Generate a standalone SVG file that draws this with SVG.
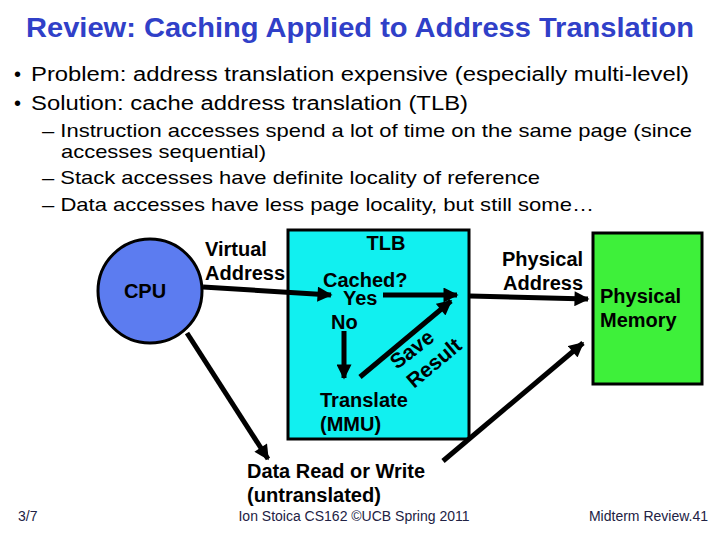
<svg xmlns="http://www.w3.org/2000/svg" width="720" height="540" viewBox="0 0 720 540">
<defs>
<style>
.title{font-family:"Liberation Sans",Arial,sans-serif;font-weight:bold;font-size:28px;fill:#3040c8}
.body{font-family:"Liberation Sans",Arial,sans-serif;font-size:20px;fill:#000}
.sub{font-family:"Liberation Sans",Arial,sans-serif;font-size:19px;fill:#000}
.lbl{font-family:"Liberation Sans",Arial,sans-serif;font-weight:bold;font-size:20px;fill:#000}
.rot{font-family:"Liberation Sans",Arial,sans-serif;font-weight:bold;font-size:21px;fill:#000}
.foot{font-family:"Liberation Sans",Arial,sans-serif;font-size:14px;fill:#222244}
.conn{stroke:#000;stroke-width:5;fill:none}
.box{stroke:#000;stroke-width:3}
</style>
<marker id="ah" viewBox="0 0 10 10" refX="9" refY="5" markerWidth="3.2" markerHeight="3" orient="auto" markerUnits="strokeWidth">
<path d="M0,0 L10,5 L0,10 z" fill="#000"/>
</marker>
</defs>
<rect width="720" height="540" fill="#fff"/>
<text class="title" x="26" y="37" textLength="668" lengthAdjust="spacingAndGlyphs">Review: Caching Applied to Address Translation</text>
<text class="body" x="14" y="81">•</text>
<text class="body" x="31" y="81" textLength="658" lengthAdjust="spacingAndGlyphs">Problem: address translation expensive (especially multi-level)</text>
<text class="body" x="14" y="110">•</text>
<text class="body" x="31" y="110" textLength="437" lengthAdjust="spacingAndGlyphs">Solution: cache address translation (TLB)</text>
<text class="sub" x="42" y="137" textLength="650" lengthAdjust="spacingAndGlyphs">– Instruction accesses spend a lot of time on the same page (since</text>
<text class="sub" x="61" y="158" textLength="205" lengthAdjust="spacingAndGlyphs">accesses sequential)</text>
<text class="sub" x="42" y="184" textLength="498" lengthAdjust="spacingAndGlyphs">– Stack accesses have definite locality of reference</text>
<text class="sub" x="42" y="211" textLength="552" lengthAdjust="spacingAndGlyphs">– Data accesses have less page locality, but still some…</text>

<g id="tlb">
<rect class="box" x="288" y="230" width="181" height="209" fill="#11f0f0"/>
<text class="lbl" x="386" y="250" text-anchor="middle">TLB</text>
<text class="lbl" x="323" y="287">Cached?</text>
<text class="lbl" x="343" y="305">Yes</text>
<text class="lbl" x="331" y="329">No</text>
<text class="lbl" x="320" y="407">Translate</text>
<text class="lbl" x="320" y="431">(MMU)</text>
<text class="rot" transform="translate(397,370) rotate(-38)">Save</text>
<text class="rot" transform="translate(414,389) rotate(-40)">Result</text>
</g>
<g id="cpu">
<circle class="box" cx="150" cy="291" r="52" fill="#5c7cf0"/>
<text class="lbl" x="145" y="298" text-anchor="middle">CPU</text>
</g>
<g id="memory">
<rect class="box" x="593" y="233" width="109" height="151" fill="#3ef03a"/>
<text class="lbl" x="600" y="303">Physical</text>
<text class="lbl" x="600" y="327">Memory</text>
</g>
<g id="labels">
<text class="lbl" x="205" y="256">Virtual</text>
<text class="lbl" x="205" y="280">Address</text>
<text class="lbl" x="502" y="266">Physical</text>
<text class="lbl" x="503" y="290">Address</text>
<text class="lbl" x="247" y="478" textLength="178" lengthAdjust="spacingAndGlyphs">Data Read or Write</text>
<text class="lbl" x="247" y="502" textLength="134" lengthAdjust="spacingAndGlyphs">(untranslated)</text>
</g>
<g id="connectors">
<line class="conn" x1="203" y1="287" x2="331" y2="295" marker-end="url(#ah)"/>
<line class="conn" x1="383" y1="295" x2="457" y2="295" marker-end="url(#ah)"/>
<line class="conn" x1="470" y1="296" x2="588" y2="299" marker-end="url(#ah)"/>
<line class="conn" x1="344" y1="331" x2="344" y2="378" marker-end="url(#ah)"/>
<line class="conn" x1="360" y1="377" x2="451" y2="301" marker-end="url(#ah)"/>
<line class="conn" x1="187" y1="333" x2="268" y2="459" marker-end="url(#ah)"/>
<line class="conn" x1="443" y1="461" x2="583" y2="343" marker-end="url(#ah)"/>
</g>
<text class="foot" x="18" y="521">3/7</text>
<text class="foot" x="354" y="521" text-anchor="middle">Ion Stoica CS162 ©UCB Spring 2011</text>
<text class="foot" x="708" y="521" text-anchor="end">Midterm Review.41</text>
</svg>
